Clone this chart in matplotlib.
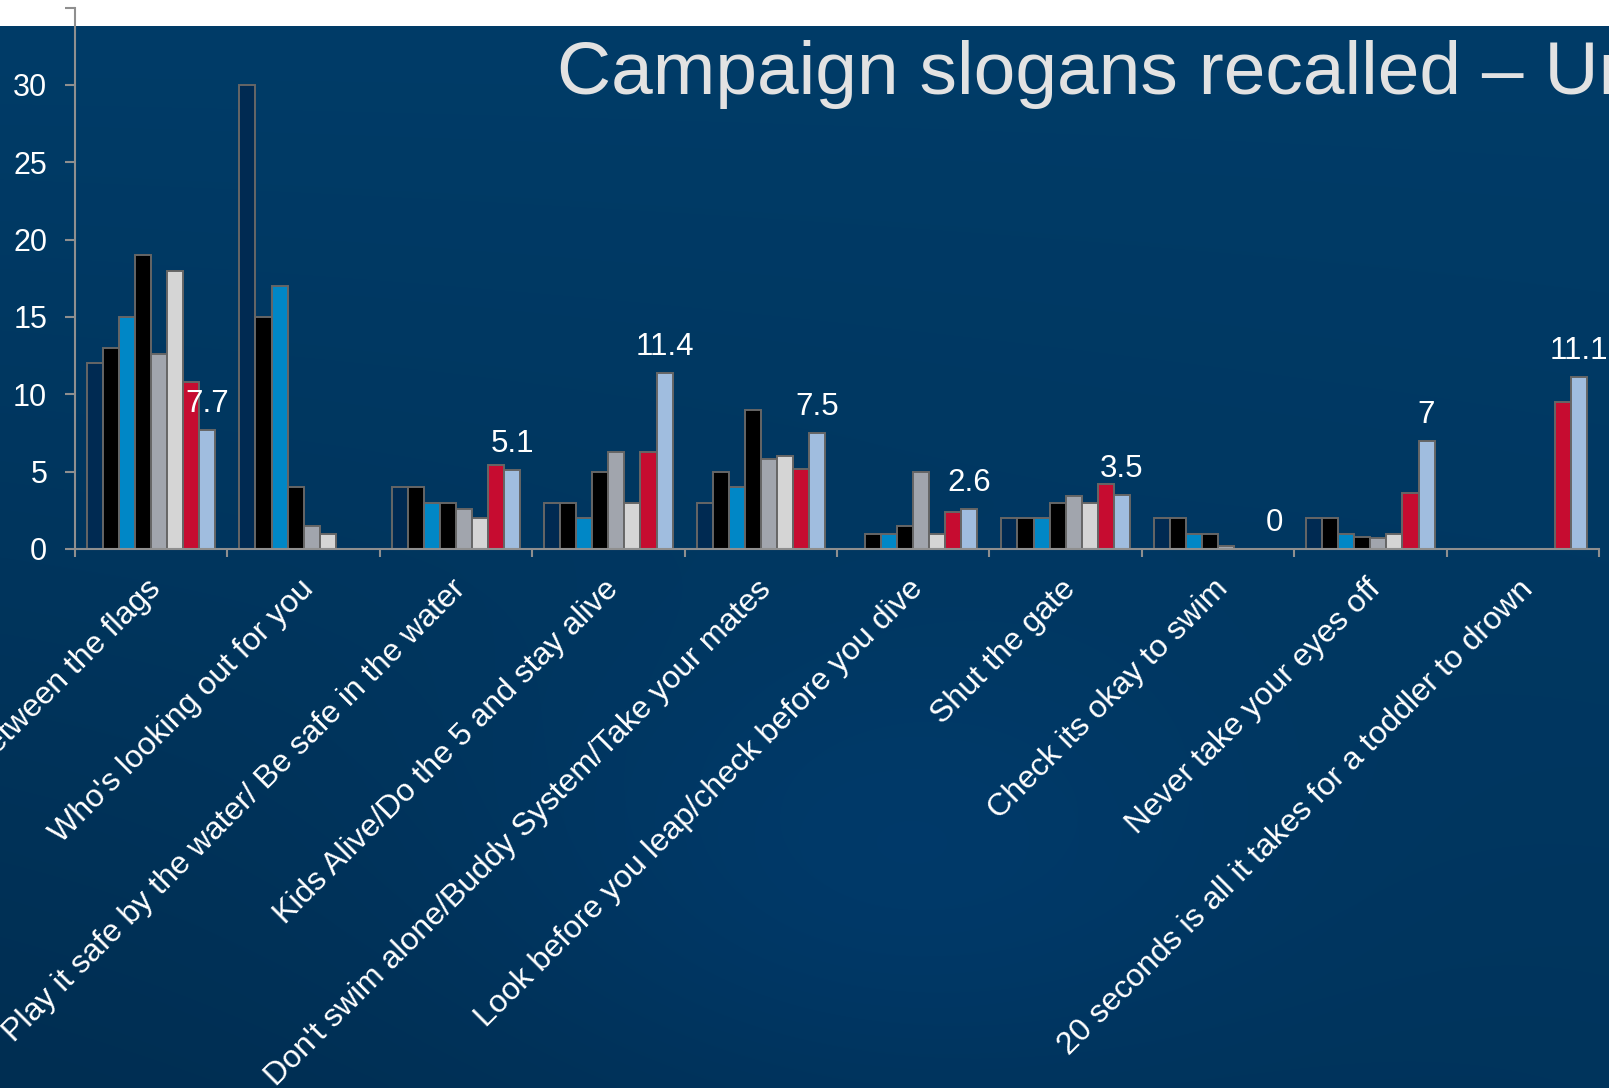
import numpy as np
import matplotlib
matplotlib.use("Agg")
import matplotlib.pyplot as plt
import matplotlib.transforms as mtransforms

plt.rcParams['font.family'] = ['Liberation Sans', 'DejaVu Sans']

# slogan categories along the x axis
categories = [
    "Swim between the flags",
    "Who's looking out for you",
    "Play it safe by the water/ Be safe in the water",
    "Kids Alive/Do the 5 and stay alive",
    "Don't swim alone/Buddy System/Take your mates",
    "Look before you leap/check before you dive",
    "Shut the gate",
    "Check its okay to swim",
    "Never take your eyes off",
    "20 seconds is all it takes for a toddler to drown",
]

nan = np.nan
# recall (%) per survey wave, one list per series
wave1 = [12, 30, 4, 3, 3, nan, 2, 2, 2, nan]
wave2 = [13, 15, 4, 3, 5, 1, 2, 2, 2, nan]
wave3 = [15, 17, 3, 2, 4, 1, 2, 1, 1, nan]
wave4 = [19, 4, 3, 5, 9, 1.5, 3, 1, 0.8, nan]
wave5 = [12.6, 1.5, 2.6, 6.3, 5.8, 5, 3.4, 0.2, 0.7, nan]
wave6 = [18, 1, 2, 3, 6, 1, 3, nan, 1, nan]
wave7 = [10.8, nan, 5.4, 6.3, 5.2, 2.4, 4.2, nan, 3.6, 9.5]
wave8 = [7.7, nan, 5.1, 11.4, 7.5, 2.6, 3.5, 0, 7, 11.1]

series = [wave1, wave2, wave3, wave4, wave5, wave6, wave7, wave8]
bar_colors = ['#002a52', '#000000', '#0087c6', '#000000',
              '#a1a5ad', '#d5d5d5', '#c60c30', '#a0bddf']

y_ticks = [0, 5, 10, 15, 20, 25, 30, 35]
y_tick_labels = ['0', '5', '10', '15', '20', '25', '30', '']

W, H = 1609, 1088
fig = plt.figure(figsize=(W / 100, H / 100), dpi=100)
fig.patch.set_facecolor('white')

# dark blue slide background with a soft gradient
bg = fig.add_axes([0, 0, 1, 1 - 26 / H])
bg.axis('off')
yy, xx = np.mgrid[0:1:220j, 0:1:320j]
top = np.array([0, 60, 104]) / 255.0
bottom = np.array([0, 52, 92]) / 255.0
img = top[None, None, :] * (1 - yy[..., None]) + bottom[None, None, :] * yy[..., None]
glow = np.exp(-((xx - 0.55) ** 2 / 0.06 + (yy - 0.8) ** 2 / 0.05))
img = img + glow[..., None] * (np.array([0, 6, 14]) / 255.0)
shade = (1 - xx) * yy
img = img - shade[..., None] * (np.array([0, 6, 10]) / 255.0)
bg.imshow(np.clip(img, 0, 1), aspect='auto', extent=[0, 1, 0, 1],
          interpolation='bicubic')

ax = fig.add_axes([75 / W, 1 - 549 / H, (1599 - 75) / W, (549 - 7.5) / H])
ax.patch.set_alpha(0)

n = len(series)
centers = np.arange(len(categories)) + 0.5
width = 1.0 / (n + 1.5)
for i, (vals, col) in enumerate(zip(series, bar_colors)):
    x = centers + (i - (n - 1) / 2) * width
    ax.bar(x, vals, width, color=col, edgecolor='#666666', linewidth=1.4,
           zorder=2)

# value labels on the last wave
x_last = centers + ((n - 1) - (n - 1) / 2) * width
for x, v in zip(x_last, wave8):
    if np.isnan(v):
        continue
    ax.annotate(f'{v:g}', (x, v), xytext=(0, 8), textcoords='offset points',
                ha='center', va='bottom', color='white', fontsize=22.5,
                zorder=5, annotation_clip=False)

ax.set_xlim(0, len(categories))
ax.set_ylim(0, 35)

ax.set_yticks(y_ticks)
ax.set_yticklabels(y_tick_labels)
ax.tick_params(axis='y', direction='out', length=7, width=1.5,
               color='#8f8f8f', pad=13, labelcolor='white', labelsize=22)

ax.set_xticks(centers)
ax.set_xticklabels(categories, rotation=45, ha='right',
                   rotation_mode='anchor', fontsize=23, color='white')
ax.set_xticks(np.arange(len(categories) + 1), minor=True)
ax.tick_params(axis='x', which='major', length=0, pad=18)
ax.tick_params(axis='x', which='minor', direction='out', length=6,
               width=1.5, color='#8f8f8f')
shift = mtransforms.ScaledTranslation(-5 / 100, 0, fig.dpi_scale_trans)
for lab in ax.get_xticklabels():
    lab.set_transform(lab.get_transform() + shift)

for side in ['top', 'right']:
    ax.spines[side].set_visible(False)
for side in ['left', 'bottom']:
    ax.spines[side].set_color('#8f8f8f')
    ax.spines[side].set_linewidth(1.5)

fig.text(557 / W, 1 - 94 / H, 'Campaign slogans recalled \u2013 Urban',
         color='#e2e2e2', fontsize=54, ha='left', va='baseline')

fig.savefig('out.png', dpi=100, facecolor=fig.get_facecolor())
